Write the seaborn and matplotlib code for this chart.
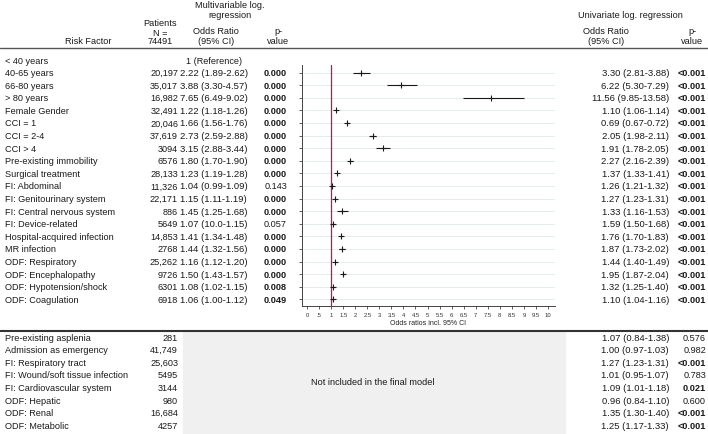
import matplotlib
matplotlib.use("Agg")
import matplotlib.pyplot as plt
import seaborn as sns
import pandas as pd
import numpy as np

# ---------------- data ----------------
main_labels = ["< 40 years", "40-65 years", "66-80 years", "> 80 years", "Female Gender",
               "CCI = 1", "CCI = 2-4", "CCI > 4", "Pre-existing immobility", "Surgical treatment",
               "FI: Abdominal", "FI: Genitourinary system", "FI: Central nervous system",
               "FI: Device-related", "Hospital-acquired infection", "MR infection",
               "ODF: Respiratory", "ODF: Encephalopathy", "ODF: Hypotension/shock", "ODF: Coagulation"]
main_n = ["", "20,197", "35,017", "16,982", "32,491", "20,046", "37,619", "3094", "6576", "28,133",
          "11,326", "22,171", "886", "5649", "14,853", "2768", "25,262", "9726", "6301", "6918"]
mv_or = [np.nan, 2.22, 3.88, 7.65, 1.22, 1.66, 2.73, 3.15, 1.80, 1.23,
         1.04, 1.15, 1.45, 1.07, 1.41, 1.44, 1.16, 1.50, 1.08, 1.06]
mv_lo = [np.nan, 1.89, 3.30, 6.49, 1.18, 1.56, 2.59, 2.88, 1.70, 1.19,
         0.99, 1.11, 1.25, 1.00, 1.34, 1.32, 1.12, 1.43, 1.02, 1.00]
mv_hi = [np.nan, 2.62, 4.57, 9.02, 1.26, 1.76, 2.88, 3.44, 1.90, 1.28,
         1.09, 1.19, 1.68, 1.15, 1.48, 1.56, 1.20, 1.57, 1.15, 1.12]
mv_ci_text_override = {13: "1.07 (10.0-1.15)"}   # as printed in the source table
mv_p = [np.nan, 0.000, 0.000, 0.000, 0.000, 0.000, 0.000, 0.000, 0.000, 0.000,
        0.143, 0.000, 0.000, 0.057, 0.000, 0.000, 0.000, 0.000, 0.008, 0.049]
uni_or = [np.nan, 3.30, 6.22, 11.56, 1.10, 0.69, 2.05, 1.91, 2.27, 1.37,
          1.26, 1.27, 1.33, 1.59, 1.76, 1.87, 1.44, 1.95, 1.32, 1.10]
uni_lo = [np.nan, 2.81, 5.30, 9.85, 1.06, 0.67, 1.98, 1.78, 2.16, 1.33,
          1.21, 1.23, 1.16, 1.50, 1.70, 1.73, 1.40, 1.87, 1.25, 1.04]
uni_hi = [np.nan, 3.88, 7.29, 13.58, 1.14, 0.72, 2.11, 2.05, 2.39, 1.41,
          1.32, 1.31, 1.53, 1.68, 1.83, 2.02, 1.49, 2.04, 1.40, 1.16]
uni_p = ["", "<0.001", "<0.001", "<0.001", "<0.001", "<0.001", "<0.001", "<0.001", "<0.001", "<0.001",
         "<0.001", "<0.001", "<0.001", "<0.001", "<0.001", "<0.001", "<0.001", "<0.001", "<0.001", "<0.001"]

ex_labels = ["Pre-existing asplenia", "Admission as emergency", "FI: Respiratory tract",
             "FI: Wound/soft tissue infection", "FI: Cardiovascular system", "ODF: Hepatic",
             "ODF: Renal", "ODF: Metabolic"]
ex_n = ["281", "41,749", "25,603", "5495", "3144", "980", "16,684", "4257"]
ex_or = [1.07, 1.00, 1.27, 1.01, 1.09, 0.96, 1.35, 1.25]
ex_lo = [0.84, 0.97, 1.23, 0.95, 1.01, 0.84, 1.30, 1.17]
ex_hi = [1.38, 1.03, 1.31, 1.07, 1.18, 1.10, 1.40, 1.33]
ex_p = ["0.576", "0.982", "<0.001", "0.783", "0.021", "0.600", "<0.001", "<0.001"]

xtick_vals = [0, 0.5, 1, 1.5, 2, 2.5, 3, 3.5, 4, 4.5, 5, 5.5, 6, 6.5, 7, 7.5, 8, 8.5, 9, 9.5, 10]
xtick_labels = ["0", ".5", "1", "1.5", "2", "2.5", "3", "3.5", "4", "4.5", "5",
                "5.5", "6", "6.5", "7", "7.5", "8", "8.5", "9", "9.5", "10"]

# ---------------- figure ----------------
sns.set_theme(style="white")
plt.rcParams["font.family"] = ["Liberation Sans", "DejaVu Sans"]

W, H = 708, 435
fig = plt.figure(figsize=(W / 100, H / 100), dpi=100)
fig.patch.set_facecolor("white")

FS = 6.6
FS_NUM = 6.8
ROW0, STEP = 61.0, 12.6
UNI_OR_X, UNI_P_X = 669, 706


def fx(px):
    return px / W


def fy(py):
    return 1 - py / H


def row_y(i):
    return ROW0 + STEP * i


def txt(x, y, s, ha="left", bold=False, size=FS, color="#1a1a1a"):
    fig.text(fx(x), fy(y), s, ha=ha, va="center", fontsize=size,
             fontweight="bold" if bold else "normal", color=color)


# gray box for excluded factors
sep_y = 332
fig.patches.append(matplotlib.patches.Rectangle((fx(183), 0), fx(565) - fx(183), fy(sep_y + 1),
                                                transform=fig.transFigure, color="#f0f0f0", zorder=0))
# horizontal rules
fig.add_artist(matplotlib.lines.Line2D([0, 1], [fy(48.5), fy(48.5)], color="#555555", lw=1.0,
                                       transform=fig.transFigure))
fig.add_artist(matplotlib.lines.Line2D([0, 1], [fy(sep_y), fy(sep_y)], color="#333333", lw=1.5,
                                       transform=fig.transFigure))

# headers
txt(230, 5.5, "Multivariable log.", ha="center")
txt(230, 15.5, "regression", ha="center")
txt(160, 24, "Patients", ha="center")
txt(160, 33, "N =", ha="center")
txt(160, 42, "74491", ha="center")
txt(88, 42, "Risk Factor", ha="center")
txt(216, 32, "Odds Ratio", ha="center")
txt(216, 42, "(95% CI)", ha="center")
txt(278, 32, "p-", ha="center")
txt(278, 42, "value", ha="center")
txt(630, 15, "Univariate log. regression", ha="center")
txt(606, 32, "Odds Ratio", ha="center")
txt(606, 42, "(95% CI)", ha="center")
txt(692, 32, "p-", ha="center")
txt(692, 42, "value", ha="center")

# main rows
for i, lab in enumerate(main_labels):
    y = row_y(i)
    txt(5, y, lab)
    if i == 0:
        txt(186, y, "1 (Reference)")
        continue
    txt(178, y, main_n[i], ha="right")
    ci = mv_ci_text_override.get(i, f"{mv_or[i]:.2f} ({mv_lo[i]:.2f}-{mv_hi[i]:.2f})")
    txt(180, y, ci, size=FS_NUM)
    txt(287, y, f"{mv_p[i]:.3f}", ha="right", bold=mv_p[i] < 0.05)
    txt(UNI_OR_X, y, f"{uni_or[i]:.2f} ({uni_lo[i]:.2f}-{uni_hi[i]:.2f})", ha="right", size=FS_NUM)
    txt(UNI_P_X, y, uni_p[i], ha="right", bold=True)

# excluded rows
for k, lab in enumerate(ex_labels):
    y = row_y(22 + k)
    txt(5, y, lab)
    txt(178, y, ex_n[k], ha="right")
    txt(UNI_OR_X, y, f"{ex_or[k]:.2f} ({ex_lo[k]:.2f}-{ex_hi[k]:.2f})", ha="right", size=FS_NUM)
    pv = ex_p[k]
    bold = pv.startswith("<") or float(pv) < 0.05
    txt(UNI_P_X, y, pv, ha="right", bold=bold)
txt(373, row_y(25.5), "Not included in the final model", ha="center")

# forest plot axes
ax_l, ax_r, ax_t, ax_b = 302, 555, 66, 306.5
ax = fig.add_axes([fx(ax_l), fy(ax_b), fx(ax_r) - fx(ax_l), (ax_b - ax_t) / H])
ax.set_facecolor("none")

df = pd.DataFrame({"row": np.arange(len(main_labels)), "or": mv_or, "lo": mv_lo, "hi": mv_hi}).dropna()
ax.hlines(df["row"], df["lo"], df["hi"], color="#1a1a1a", lw=0.8, zorder=3)
sns.scatterplot(data=df, x="or", y="row", marker="+", s=14, color="#1a1a1a",
                linewidth=0.8, ax=ax, zorder=4, legend=False)
ax.axvline(1, color="#c8143c", lw=0.9, zorder=2)

ax.set_xlim(-0.21, 10.29)
ax.set_ylim((ax_b - ROW0) / STEP, (ax_t - ROW0) / STEP)
ax.set_yticks(df["row"].tolist())
ax.set_yticklabels([])
ax.set_xticks(xtick_vals)
ax.set_xticklabels(xtick_labels, fontsize=4.2, color="#333333")
ax.grid(axis="y", color="#e4ecee", lw=0.7, zorder=0)
ax.grid(axis="x", visible=False)
for s in ["top", "right"]:
    ax.spines[s].set_visible(False)
for s in ["left", "bottom"]:
    ax.spines[s].set_color("#444444")
    ax.spines[s].set_linewidth(0.7)
ax.tick_params(axis="both", which="both", direction="out", length=2.5, width=0.6,
               color="#444444", pad=2, left=True, bottom=True)
ax.set_xlabel("Odds ratios incl. 95% CI", fontsize=5, color="#222222", labelpad=1.5)
ax.set_ylabel("")

fig.savefig("out.png", dpi=100, facecolor="white")
